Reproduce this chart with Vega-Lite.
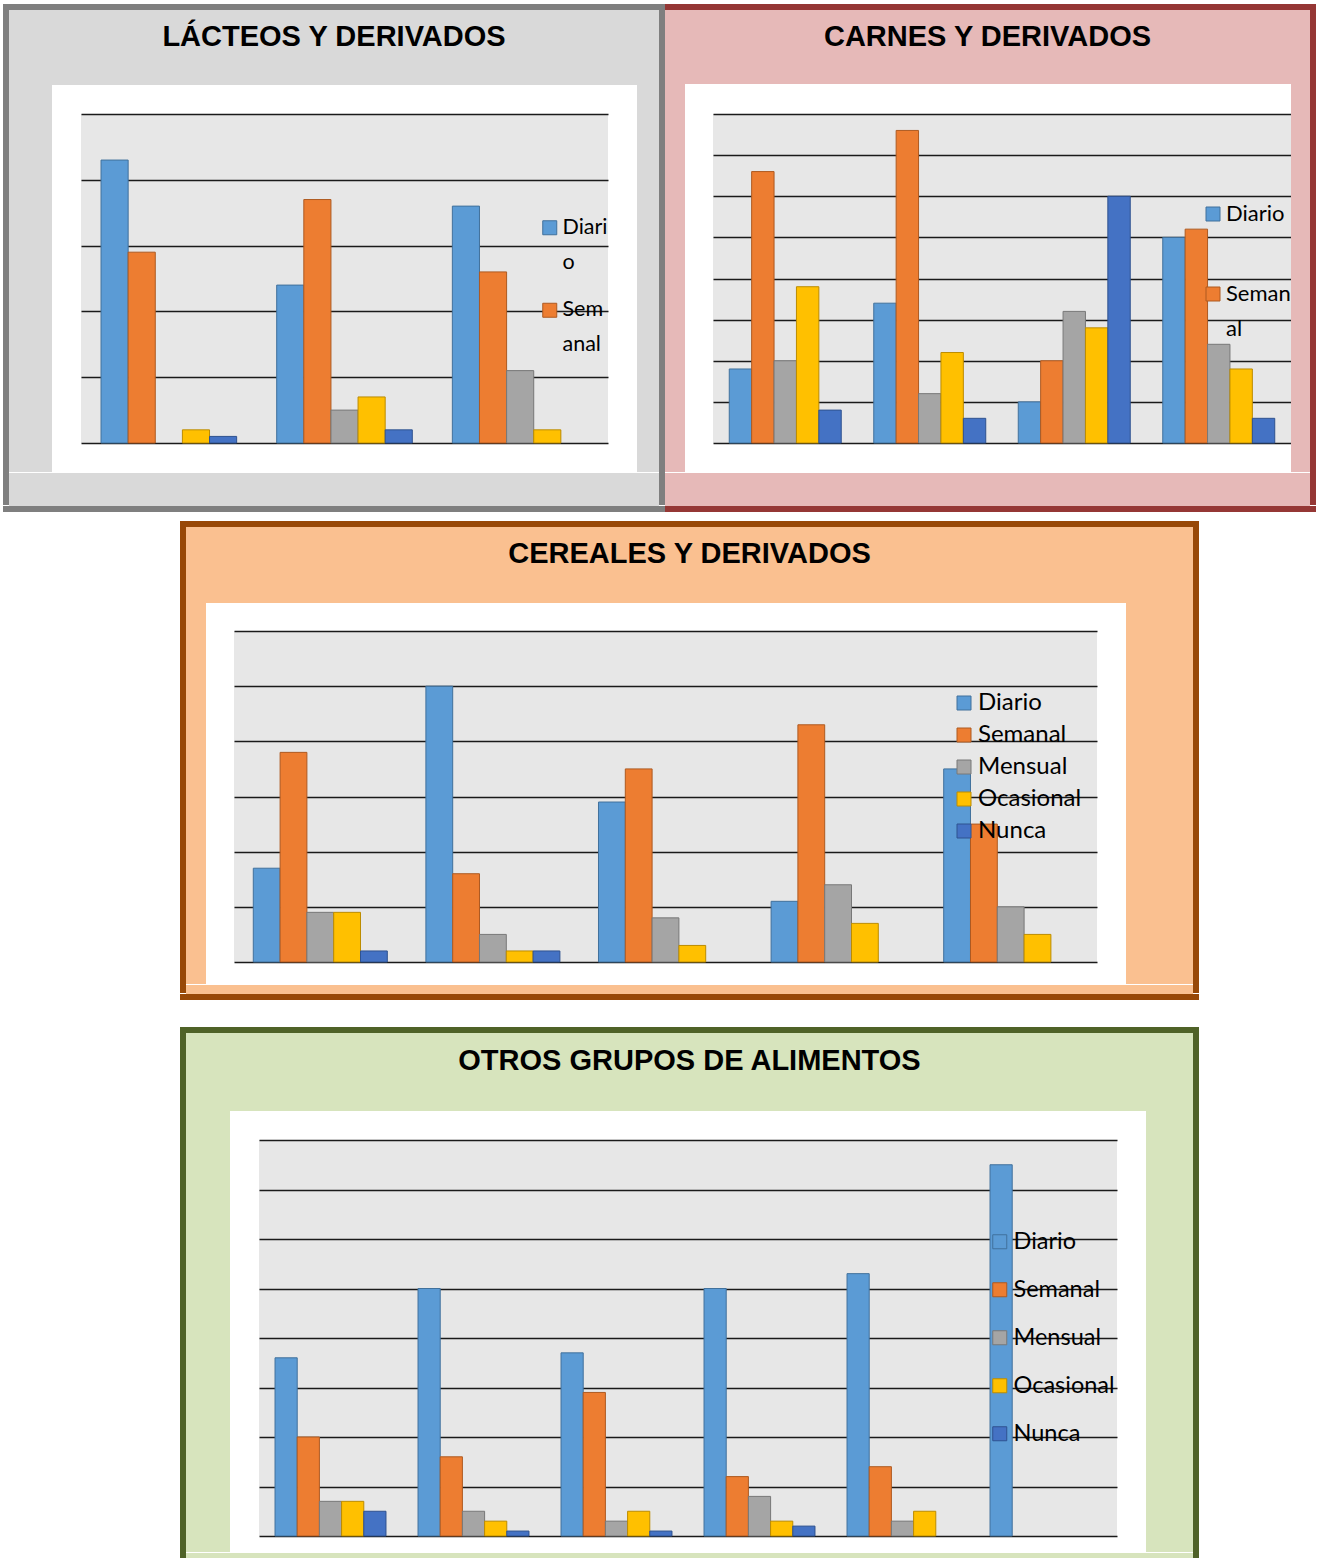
{
"$schema": "https://vega.github.io/schema/vega-lite/v6.json",
"background": "white",
"padding": {"left": 3, "top": 4, "right": 0, "bottom": 0},
"config": {"view": {"stroke": null}, "style": {"guide-label": {"lineHeight": 35}}, "legend": {"padding": 0, "titleFontSize": 0, "labelFont": "Lato", "labelColor": "#000000", "symbolType": "square", "symbolStrokeWidth": 1, "labelOffset": 2}},
"datasets": {
"lacteos": [
{"grupo":"Producto 1","frecuencia":"Diario","valor":43},{"grupo":"Producto 1","frecuencia":"Semanal","valor":29},{"grupo":"Producto 1","frecuencia":"Ocasional","valor":2},{"grupo":"Producto 1","frecuencia":"Nunca","valor":1},
{"grupo":"Producto 2","frecuencia":"Diario","valor":24},{"grupo":"Producto 2","frecuencia":"Semanal","valor":37},{"grupo":"Producto 2","frecuencia":"Mensual","valor":5},{"grupo":"Producto 2","frecuencia":"Ocasional","valor":7},{"grupo":"Producto 2","frecuencia":"Nunca","valor":2},
{"grupo":"Producto 3","frecuencia":"Diario","valor":36},{"grupo":"Producto 3","frecuencia":"Semanal","valor":26},{"grupo":"Producto 3","frecuencia":"Mensual","valor":11},{"grupo":"Producto 3","frecuencia":"Ocasional","valor":2}],
"carnes": [
{"grupo":"Producto 1","frecuencia":"Diario","valor":9},{"grupo":"Producto 1","frecuencia":"Semanal","valor":33},{"grupo":"Producto 1","frecuencia":"Mensual","valor":10},{"grupo":"Producto 1","frecuencia":"Ocasional","valor":19},{"grupo":"Producto 1","frecuencia":"Nunca","valor":4},
{"grupo":"Producto 2","frecuencia":"Diario","valor":17},{"grupo":"Producto 2","frecuencia":"Semanal","valor":38},{"grupo":"Producto 2","frecuencia":"Mensual","valor":6},{"grupo":"Producto 2","frecuencia":"Ocasional","valor":11},{"grupo":"Producto 2","frecuencia":"Nunca","valor":3},
{"grupo":"Producto 3","frecuencia":"Diario","valor":5},{"grupo":"Producto 3","frecuencia":"Semanal","valor":10},{"grupo":"Producto 3","frecuencia":"Mensual","valor":16},{"grupo":"Producto 3","frecuencia":"Ocasional","valor":14},{"grupo":"Producto 3","frecuencia":"Nunca","valor":30},
{"grupo":"Producto 4","frecuencia":"Diario","valor":25},{"grupo":"Producto 4","frecuencia":"Semanal","valor":26},{"grupo":"Producto 4","frecuencia":"Mensual","valor":12},{"grupo":"Producto 4","frecuencia":"Ocasional","valor":9},{"grupo":"Producto 4","frecuencia":"Nunca","valor":3}],
"cereales": [
{"grupo":"Producto 1","frecuencia":"Diario","valor":17},{"grupo":"Producto 1","frecuencia":"Semanal","valor":38},{"grupo":"Producto 1","frecuencia":"Mensual","valor":9},{"grupo":"Producto 1","frecuencia":"Ocasional","valor":9},{"grupo":"Producto 1","frecuencia":"Nunca","valor":2},
{"grupo":"Producto 2","frecuencia":"Diario","valor":50},{"grupo":"Producto 2","frecuencia":"Semanal","valor":16},{"grupo":"Producto 2","frecuencia":"Mensual","valor":5},{"grupo":"Producto 2","frecuencia":"Ocasional","valor":2},{"grupo":"Producto 2","frecuencia":"Nunca","valor":2},
{"grupo":"Producto 3","frecuencia":"Diario","valor":29},{"grupo":"Producto 3","frecuencia":"Semanal","valor":35},{"grupo":"Producto 3","frecuencia":"Mensual","valor":8},{"grupo":"Producto 3","frecuencia":"Ocasional","valor":3},
{"grupo":"Producto 4","frecuencia":"Diario","valor":11},{"grupo":"Producto 4","frecuencia":"Semanal","valor":43},{"grupo":"Producto 4","frecuencia":"Mensual","valor":14},{"grupo":"Producto 4","frecuencia":"Ocasional","valor":7},
{"grupo":"Producto 5","frecuencia":"Diario","valor":35},{"grupo":"Producto 5","frecuencia":"Semanal","valor":25},{"grupo":"Producto 5","frecuencia":"Mensual","valor":10},{"grupo":"Producto 5","frecuencia":"Ocasional","valor":5}],
"otros": [
{"grupo":"Producto 1","frecuencia":"Diario","valor":36},{"grupo":"Producto 1","frecuencia":"Semanal","valor":20},{"grupo":"Producto 1","frecuencia":"Mensual","valor":7},{"grupo":"Producto 1","frecuencia":"Ocasional","valor":7},{"grupo":"Producto 1","frecuencia":"Nunca","valor":5},
{"grupo":"Producto 2","frecuencia":"Diario","valor":50},{"grupo":"Producto 2","frecuencia":"Semanal","valor":16},{"grupo":"Producto 2","frecuencia":"Mensual","valor":5},{"grupo":"Producto 2","frecuencia":"Ocasional","valor":3},{"grupo":"Producto 2","frecuencia":"Nunca","valor":1},
{"grupo":"Producto 3","frecuencia":"Diario","valor":37},{"grupo":"Producto 3","frecuencia":"Semanal","valor":29},{"grupo":"Producto 3","frecuencia":"Mensual","valor":3},{"grupo":"Producto 3","frecuencia":"Ocasional","valor":5},{"grupo":"Producto 3","frecuencia":"Nunca","valor":1},
{"grupo":"Producto 4","frecuencia":"Diario","valor":50},{"grupo":"Producto 4","frecuencia":"Semanal","valor":12},{"grupo":"Producto 4","frecuencia":"Mensual","valor":8},{"grupo":"Producto 4","frecuencia":"Ocasional","valor":3},{"grupo":"Producto 4","frecuencia":"Nunca","valor":2},
{"grupo":"Producto 5","frecuencia":"Diario","valor":53},{"grupo":"Producto 5","frecuencia":"Semanal","valor":14},{"grupo":"Producto 5","frecuencia":"Mensual","valor":3},{"grupo":"Producto 5","frecuencia":"Ocasional","valor":5},
{"grupo":"Producto 6","frecuencia":"Diario","valor":75}]
},
"spacing": 9,
"resolve": {"scale": {"fill": "independent", "stroke": "independent", "xOffset": "independent"}},
"vconcat": [
{"spacing": 0, "resolve": {"scale": {"fill": "independent", "stroke": "independent", "xOffset": "independent"}}, "hconcat": [
 {"spacing": 0, "resolve": {"scale": {"fill": "independent", "stroke": "independent", "xOffset": "independent"}}, "vconcat": [
  {"width": 662, "height": 6, "view": {"fill": "#7f7f7f"}, "data": {"values": []}, "mark": "point"},
  {"spacing": 0, "resolve": {"scale": {"fill": "independent", "stroke": "independent", "xOffset": "independent"}}, "hconcat": [
   {"width": 6, "height": 495, "view": {"fill": "#7f7f7f"}, "data": {"values": []}, "mark": "point"},
   {"spacing": 0, "resolve": {"scale": {"fill": "independent", "stroke": "independent", "xOffset": "independent"}}, "vconcat": [
    {"width": 650, "height": 75, "view": {"fill": "#d9d9d9"}, "data": {"values": [{"t": "LÁCTEOS Y DERIVADOS"}]}, "mark": {"type": "text", "font": "Liberation Sans", "fontWeight": "bold", "fontSize": 29, "color": "#000000", "dy": -11, "baseline": "middle", "align": "center"}, "encoding": {"text": {"field": "t"}}},
    {"spacing": 0, "resolve": {"scale": {"fill": "independent", "stroke": "independent", "xOffset": "independent"}}, "hconcat": [
     {"width": 43, "height": 387, "view": {"fill": "#d9d9d9"}, "data": {"values": []}, "mark": "point"},
     {"width": 29, "height": 387, "data": {"values": []}, "mark": "point"},
     {"spacing": 0, "resolve": {"scale": {"fill": "independent", "stroke": "independent", "xOffset": "independent"}}, "vconcat": [
      {"width": 527, "height": 29, "data": {"values": []}, "mark": "point"},
      {"width": 527, "height": 329, "view": {"fill": "#e7e7e7"}, "data": {"name": "lacteos"}, "mark": {"type": "bar", "strokeWidth": 1},
       "encoding": {
        "x": {"field": "grupo", "type": "nominal", "sort": null, "axis": null, "scale": {"paddingInner": 0.228, "paddingOuter": 0.114}},
        "xOffset": {"field": "frecuencia", "type": "nominal", "scale": {"domain": ["Diario","Semanal","Mensual","Ocasional","Nunca"], "paddingInner": 0, "paddingOuter": 0}},
        "y": {"field": "valor", "type": "quantitative", "scale": {"domain": [0, 50], "nice": false}, "axis": {"values": [0,10,20,30,40,50], "grid": true, "labels": false, "ticks": false, "domain": false, "title": null, "gridColor": "#1a1a1a", "gridWidth": 1.5, "gridOpacity": 1, "minExtent": 0, "maxExtent": 0}},
        "fill": {"field": "frecuencia", "type": "nominal", "scale": {"domain": ["Diario","Semanal","Mensual","Ocasional","Nunca"], "range": ["#5b9bd5","#ed7d31","#a5a5a5","#ffc000","#4472c4"]}, "legend": {"orient": "none", "legendX": 458, "legendY": 103, "title": null, "values": ["Diario","Semanal"], "labelExpr": "datum.label == 'Diario' ? ['Diari', 'o'] : ['Sem', 'anal']", "labelFontSize": 21.5, "symbolSize": 196, "rowPadding": 24.5, "symbolStrokeColor": "#555555"}},
        "stroke": {"field": "frecuencia", "type": "nominal", "scale": {"domain": ["Diario","Semanal","Mensual","Ocasional","Nunca"], "range": ["#41719c","#ae5a21","#787878","#bc8c00","#2f528f"]}, "legend": null}
       }},
      {"width": 527, "height": 29, "data": {"values": []}, "mark": "point"}
     ]},
     {"width": 29, "height": 387, "data": {"values": []}, "mark": "point"},
     {"width": 22, "height": 387, "view": {"fill": "#d9d9d9"}, "data": {"values": []}, "mark": "point"}
    ]},
    {"width": 650, "height": 33, "view": {"fill": "#d9d9d9"}, "data": {"values": []}, "mark": "point"}
   ]},
   {"width": 6, "height": 495, "view": {"fill": "#7f7f7f"}, "data": {"values": []}, "mark": "point"}
  ]},
  {"width": 662, "height": 6, "view": {"fill": "#7f7f7f"}, "data": {"values": []}, "mark": "point"}
 ]},
 {"spacing": 0, "resolve": {"scale": {"fill": "independent", "stroke": "independent", "xOffset": "independent"}}, "vconcat": [
  {"width": 651, "height": 6, "view": {"fill": "#953735"}, "data": {"values": []}, "mark": "point"},
  {"spacing": 0, "resolve": {"scale": {"fill": "independent", "stroke": "independent", "xOffset": "independent"}}, "hconcat": [
   {"spacing": 0, "resolve": {"scale": {"fill": "independent", "stroke": "independent", "xOffset": "independent"}}, "vconcat": [
    {"width": 645, "height": 74, "view": {"fill": "#e6b9b8"}, "data": {"values": [{"t": "CARNES Y DERIVADOS"}]}, "mark": {"type": "text", "font": "Liberation Sans", "fontWeight": "bold", "fontSize": 29, "color": "#000000", "dy": -10, "baseline": "middle", "align": "center"}, "encoding": {"text": {"field": "t"}}},
    {"spacing": 0, "resolve": {"scale": {"fill": "independent", "stroke": "independent", "xOffset": "independent"}}, "hconcat": [
     {"width": 20, "height": 388, "view": {"fill": "#e6b9b8"}, "data": {"values": []}, "mark": "point"},
     {"width": 28, "height": 388, "data": {"values": []}, "mark": "point"},
     {"spacing": 0, "resolve": {"scale": {"fill": "independent", "stroke": "independent", "xOffset": "independent"}}, "vconcat": [
      {"width": 578, "height": 30, "data": {"values": []}, "mark": "point"},
      {"width": 578, "height": 329, "view": {"fill": "#e7e7e7"}, "data": {"name": "carnes"}, "mark": {"type": "bar", "strokeWidth": 1},
       "encoding": {
        "x": {"field": "grupo", "type": "nominal", "sort": null, "axis": null, "scale": {"paddingInner": 0.225, "paddingOuter": 0.1125}},
        "xOffset": {"field": "frecuencia", "type": "nominal", "scale": {"domain": ["Diario","Semanal","Mensual","Ocasional","Nunca"], "paddingInner": 0, "paddingOuter": 0}},
        "y": {"field": "valor", "type": "quantitative", "scale": {"domain": [0, 40], "nice": false}, "axis": {"values": [0,5,10,15,20,25,30,35,40], "grid": true, "labels": false, "ticks": false, "domain": false, "title": null, "gridColor": "#1a1a1a", "gridWidth": 1.5, "gridOpacity": 1, "minExtent": 0, "maxExtent": 0}},
        "fill": {"field": "frecuencia", "type": "nominal", "scale": {"domain": ["Diario","Semanal","Mensual","Ocasional","Nunca"], "range": ["#5b9bd5","#ed7d31","#a5a5a5","#ffc000","#4472c4"]}, "legend": {"orient": "none", "legendX": 489, "legendY": 89, "title": null, "values": ["Diario","Semanal"], "labelExpr": "datum.label == 'Diario' ? 'Diario' : ['Seman', 'al']", "labelFontSize": 22, "symbolSize": 196, "rowPadding": 58, "symbolStrokeColor": "#555555"}},
        "stroke": {"field": "frecuencia", "type": "nominal", "scale": {"domain": ["Diario","Semanal","Mensual","Ocasional","Nunca"], "range": ["#41719c","#ae5a21","#787878","#bc8c00","#2f528f"]}, "legend": null}
       }},
      {"width": 578, "height": 29, "data": {"values": []}, "mark": "point"}
     ]},
     {"width": 19, "height": 388, "view": {"fill": "#e6b9b8"}, "data": {"values": []}, "mark": "point"}
    ]},
    {"width": 645, "height": 33, "view": {"fill": "#e6b9b8"}, "data": {"values": []}, "mark": "point"}
   ]},
   {"width": 6, "height": 495, "view": {"fill": "#953735"}, "data": {"values": []}, "mark": "point"}
  ]},
  {"width": 651, "height": 6, "view": {"fill": "#953735"}, "data": {"values": []}, "mark": "point"}
 ]}
]},
{"spacing": 27, "resolve": {"scale": {"fill": "independent", "stroke": "independent", "xOffset": "independent"}}, "vconcat": [
 {"spacing": 0, "resolve": {"scale": {"fill": "independent", "stroke": "independent", "xOffset": "independent"}}, "hconcat": [
  {"width": 177, "height": 1, "data": {"values": []}, "mark": "point"},
  {"spacing": 0, "resolve": {"scale": {"fill": "independent", "stroke": "independent", "xOffset": "independent"}}, "vconcat": [
   {"width": 1019, "height": 6, "view": {"fill": "#984807"}, "data": {"values": []}, "mark": "point"},
   {"spacing": 0, "resolve": {"scale": {"fill": "independent", "stroke": "independent", "xOffset": "independent"}}, "hconcat": [
    {"width": 6, "height": 466, "view": {"fill": "#984807"}, "data": {"values": []}, "mark": "point"},
    {"spacing": 0, "resolve": {"scale": {"fill": "independent", "stroke": "independent", "xOffset": "independent"}}, "vconcat": [
     {"width": 1007, "height": 76, "view": {"fill": "#fac090"}, "data": {"values": [{"t": "CEREALES Y DERIVADOS"}]}, "mark": {"type": "text", "font": "Liberation Sans", "fontWeight": "bold", "fontSize": 29, "color": "#000000", "dy": -11, "baseline": "middle", "align": "center"}, "encoding": {"text": {"field": "t"}}},
     {"spacing": 0, "resolve": {"scale": {"fill": "independent", "stroke": "independent", "xOffset": "independent"}}, "hconcat": [
      {"width": 20, "height": 381, "view": {"fill": "#fac090"}, "data": {"values": []}, "mark": "point"},
      {"width": 28, "height": 381, "data": {"values": []}, "mark": "point"},
      {"spacing": 0, "resolve": {"scale": {"fill": "independent", "stroke": "independent", "xOffset": "independent"}}, "vconcat": [
       {"width": 863, "height": 28, "data": {"values": []}, "mark": "point"},
       {"width": 863, "height": 331, "view": {"fill": "#e7e7e7"}, "data": {"name": "cereales"}, "mark": {"type": "bar", "strokeWidth": 1},
        "encoding": {
         "x": {"field": "grupo", "type": "nominal", "sort": null, "axis": null, "scale": {"paddingInner": 0.2236, "paddingOuter": 0.1118}},
         "xOffset": {"field": "frecuencia", "type": "nominal", "scale": {"domain": ["Diario","Semanal","Mensual","Ocasional","Nunca"], "paddingInner": 0, "paddingOuter": 0}},
         "y": {"field": "valor", "type": "quantitative", "scale": {"domain": [0, 60], "nice": false}, "axis": {"values": [0,10,20,30,40,50,60], "grid": true, "labels": false, "ticks": false, "domain": false, "title": null, "gridColor": "#1a1a1a", "gridWidth": 1.5, "gridOpacity": 1, "minExtent": 0, "maxExtent": 0}},
         "fill": {"field": "frecuencia", "type": "nominal", "scale": {"domain": ["Diario","Semanal","Mensual","Ocasional","Nunca"], "range": ["#5b9bd5","#ed7d31","#a5a5a5","#ffc000","#4472c4"]}, "legend": {"orient": "none", "legendX": 718, "legendY": 60, "title": null, "labelFontSize": 24, "symbolSize": 196, "rowPadding": 8, "symbolStrokeColor": "#555555"}},
         "stroke": {"field": "frecuencia", "type": "nominal", "scale": {"domain": ["Diario","Semanal","Mensual","Ocasional","Nunca"], "range": ["#41719c","#ae5a21","#787878","#bc8c00","#2f528f"]}, "legend": null}
        }},
       {"width": 863, "height": 22, "data": {"values": []}, "mark": "point"}
      ]},
      {"width": 29, "height": 381, "data": {"values": []}, "mark": "point"},
      {"width": 67, "height": 381, "view": {"fill": "#fac090"}, "data": {"values": []}, "mark": "point"}
     ]},
     {"width": 1007, "height": 9, "view": {"fill": "#fac090"}, "data": {"values": []}, "mark": "point"}
    ]},
    {"width": 6, "height": 466, "view": {"fill": "#984807"}, "data": {"values": []}, "mark": "point"}
   ]},
   {"width": 1019, "height": 6, "view": {"fill": "#984807"}, "data": {"values": []}, "mark": "point"}
  ]}
 ]},
 {"spacing": 0, "resolve": {"scale": {"fill": "independent", "stroke": "independent", "xOffset": "independent"}}, "hconcat": [
  {"width": 177, "height": 1, "data": {"values": []}, "mark": "point"},
  {"spacing": 0, "resolve": {"scale": {"fill": "independent", "stroke": "independent", "xOffset": "independent"}}, "vconcat": [
   {"width": 1019, "height": 6, "view": {"fill": "#4f6228"}, "data": {"values": []}, "mark": "point"},
   {"spacing": 0, "resolve": {"scale": {"fill": "independent", "stroke": "independent", "xOffset": "independent"}}, "hconcat": [
    {"width": 6, "height": 539, "view": {"fill": "#4f6228"}, "data": {"values": []}, "mark": "point"},
    {"spacing": 0, "resolve": {"scale": {"fill": "independent", "stroke": "independent", "xOffset": "independent"}}, "vconcat": [
     {"width": 1007, "height": 78, "view": {"fill": "#d7e4bd"}, "data": {"values": [{"t": "OTROS GRUPOS DE ALIMENTOS"}]}, "mark": {"type": "text", "font": "Liberation Sans", "fontWeight": "bold", "fontSize": 29, "color": "#000000", "dy": -11, "baseline": "middle", "align": "center"}, "encoding": {"text": {"field": "t"}}},
     {"spacing": 0, "resolve": {"scale": {"fill": "independent", "stroke": "independent", "xOffset": "independent"}}, "hconcat": [
      {"width": 44, "height": 441, "view": {"fill": "#d7e4bd"}, "data": {"values": []}, "mark": "point"},
      {"width": 29, "height": 441, "data": {"values": []}, "mark": "point"},
      {"spacing": 0, "resolve": {"scale": {"fill": "independent", "stroke": "independent", "xOffset": "independent"}}, "vconcat": [
       {"width": 858, "height": 29, "data": {"values": []}, "mark": "point"},
       {"width": 858, "height": 396, "view": {"fill": "#e7e7e7"}, "data": {"name": "otros"}, "mark": {"type": "bar", "strokeWidth": 1},
        "encoding": {
         "x": {"field": "grupo", "type": "nominal", "sort": null, "axis": null, "scale": {"paddingInner": 0.224, "paddingOuter": 0.112}},
         "xOffset": {"field": "frecuencia", "type": "nominal", "scale": {"domain": ["Diario","Semanal","Mensual","Ocasional","Nunca"], "paddingInner": 0, "paddingOuter": 0}},
         "y": {"field": "valor", "type": "quantitative", "scale": {"domain": [0, 80], "nice": false}, "axis": {"values": [0,10,20,30,40,50,60,70,80], "grid": true, "labels": false, "ticks": false, "domain": false, "title": null, "gridColor": "#1a1a1a", "gridWidth": 1.5, "gridOpacity": 1, "minExtent": 0, "maxExtent": 0}},
         "fill": {"field": "frecuencia", "type": "nominal", "scale": {"domain": ["Diario","Semanal","Mensual","Ocasional","Nunca"], "range": ["#5b9bd5","#ed7d31","#a5a5a5","#ffc000","#4472c4"]}, "legend": {"orient": "none", "legendX": 729, "legendY": 90, "title": null, "labelFontSize": 23.5, "symbolSize": 196, "rowPadding": 23, "symbolStrokeColor": "#555555"}},
         "stroke": {"field": "frecuencia", "type": "nominal", "scale": {"domain": ["Diario","Semanal","Mensual","Ocasional","Nunca"], "range": ["#41719c","#ae5a21","#787878","#bc8c00","#2f528f"]}, "legend": null}
        }},
       {"width": 858, "height": 16, "data": {"values": []}, "mark": "point"}
      ]},
      {"width": 29, "height": 441, "data": {"values": []}, "mark": "point"},
      {"width": 47, "height": 441, "view": {"fill": "#d7e4bd"}, "data": {"values": []}, "mark": "point"}
     ]},
     {"width": 1007, "height": 20, "view": {"fill": "#d7e4bd"}, "data": {"values": []}, "mark": "point"}
    ]},
    {"width": 6, "height": 539, "view": {"fill": "#4f6228"}, "data": {"values": []}, "mark": "point"}
   ]},
   {"width": 1019, "height": 6, "view": {"fill": "#4f6228"}, "data": {"values": []}, "mark": "point"}
  ]}
 ]}
]}
]
}
